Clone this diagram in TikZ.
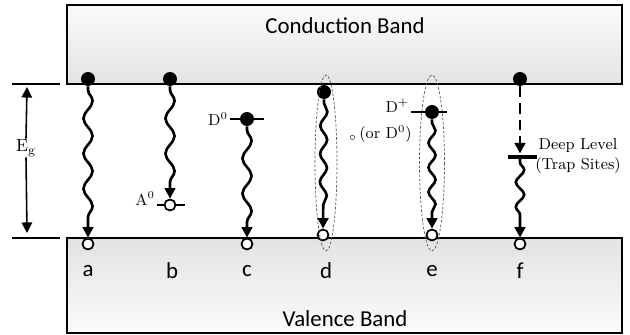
\documentclass[tikz,border=0pt]{standalone}
\usepackage{fontspec}
\newfontfamily\bandfont{Carlito}
\usetikzlibrary{arrows.meta, decorations.pathmorphing}

\begin{document}
\begin{tikzpicture}[
        x=0.02cm, y=-0.02cm,
        >={Triangle[length=6pt, width=6pt]},
        band/.style={draw, line width=0.9pt, minimum width=11.1cm, inner sep=0pt},
        elec/.style={circle, fill=black, minimum size=0.28cm, inner sep=0pt},
        hole/.style={circle, draw, fill=white, line width=1pt, minimum size=0.22cm, inner sep=0pt},
        wave/.style={->, line width=1.5pt, decorate, decoration={snake, amplitude=2.6pt, segment length=20pt, pre length=2pt, post length=7pt}},
        level/.style={line width=0.9pt},
        pair/.style={dashed, dash pattern=on 1.5pt off 1pt, gray!70!black, line width=0.4pt},
        tag/.style={font=\bandfont\fontsize{13}{15}\selectfont},
        font=\small,
    ]
        \useasboundingbox (0,0) rectangle (630,335);

        % bands
        \node[band, minimum height=1.58cm, top color=gray!3, bottom color=gray!22] (cb) at (344.5,44.5) {};
        \node[band, minimum height=1.9cm, top color=gray!22, bottom color=gray!3] (vb) at (344.5,285.5) {};
        \node[tag] (cbl) at (345,26) {Conduction Band};
        \node[tag] (vbl) at (345,319) {Valence Band};

        % band gap
        \coordinate (g1) at (12,84);  \coordinate (g2) at (60,84);
        \coordinate (g3) at (12,238); \coordinate (g4) at (60,238);
        \draw[line width=0.9pt] (g1) -- (g2);
        \draw[line width=0.9pt] (g3) -- (g4);
        \node[font=\normalsize] (eg) at (26,148) {$\mathrm{E_g}$};
        \coordinate (egt) at (27,87);
        \coordinate (egb) at (27,233);
        \draw[->, line width=0.9pt] ([yshift=-3pt]eg.north) -- (egt);
        \draw[->, line width=0.9pt] ([yshift=3pt]eg.south) -- (egb);

        % (a) band to band
        \node[elec] (ea) at (88,79) {};
        \node[hole] (ha) at (88,244) {};
        \draw[wave] (ea) -- (ha);

        % (b) free electron to acceptor
        \coordinate (la1) at (157,205); \coordinate (la2) at (185,205);
        \draw[level] (la1) -- (la2);
        \node[anchor=base east, inner sep=1pt] (alab) at (la1) {A$^0$};
        \node[elec] (eb) at (170,79) {};
        \node[hole] (hb) at (170,205) {};
        \draw[wave] (eb) -- (hb);

        % (c) donor to free hole
        \coordinate (lc1) at (230,119); \coordinate (lc2) at (264,119);
        \draw[level] (lc1) -- (lc2);
        \node[anchor=east, inner sep=1pt] (dlab) at (lc1) {D$^0$};
        \node[elec] (ec) at (247,119) {};
        \node[hole] (hc) at (247,244) {};
        \draw[wave] (ec) -- (hc);

        % (d) free exciton
        \node[elec] (ed) at (324,92) {};
        \node[hole] (hd) at (323,235) {};
        \draw[wave, decoration={amplitude=2pt, segment length=16pt}] (ed) -- (hd);
        \draw[pair] (326,163) ellipse [x radius=11, y radius=88];
        \node[anchor=west, inner sep=1pt] (xlab) at (347,134) {$_\circ$\,(or D$^0$)};

        % (e) bound exciton
        \coordinate (le1) at (411,112); \coordinate (le2) at (447,112);
        \draw[level] (le1) -- (le2);
        \node[anchor=base east, inner sep=1pt] (dplab) at (le1) {D$^+$};
        \node[elec] (ee) at (432,112) {};
        \node[hole] (he) at (432,235) {};
        \draw[wave, decoration={amplitude=2pt, segment length=14pt}] (ee) -- (he);
        \draw[pair] (432,163) ellipse [x radius=12.5, y radius=88];

        % (f) deep level
        \node[elec] (ef) at (520,79) {};
        \node[hole] (hf) at (520,244) {};
        \coordinate (lf1) at (508,157); \coordinate (lf2) at (537,157);
        \coordinate (tf) at (520,157);
        \draw[line width=2.4pt] (lf1) -- (lf2);
        \draw[->, line width=1.5pt, dash pattern=on 6pt off 3.5pt] (ef) -- ([yshift=2pt]tf);
        \draw[wave, decoration={amplitude=2.4pt, segment length=14pt}] ([yshift=-1pt]tf) -- (hf);
        \node[align=center, inner sep=0pt] (deep) at (578,156) {Deep Level\\(Trap Sites)};

        % labels
        \foreach \px/\t in {88/a, 172/b, 247/c, 326/d, 432/e, 520/f}
            \node[tag] (l\t) at (\px,271) {\t};
    \end{tikzpicture}
\end{document}
